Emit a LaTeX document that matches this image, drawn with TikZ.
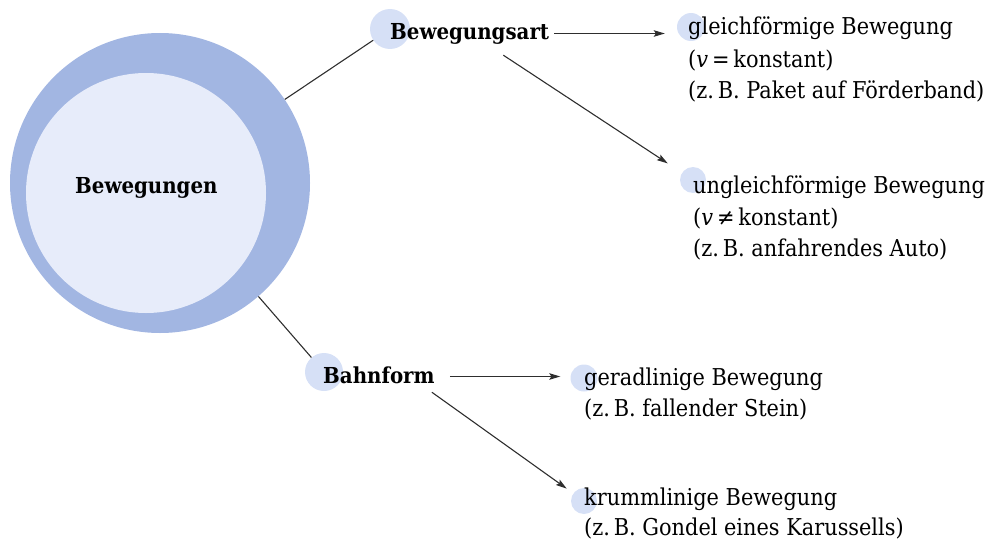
\documentclass[tikz,border=0pt]{standalone}
\usepackage{fontspec}
\setmainfont{DejaVu Serif Condensed}
\usetikzlibrary{arrows.meta}
\definecolor{ringblue}{RGB}{162,182,226}
\definecolor{innerblue}{RGB}{231,236,250}
\definecolor{dotblue}{RGB}{214,224,246}
\begin{document}
\begin{tikzpicture}[x=1pt,y=-1pt,
  dot/.style={circle, fill=dotblue, inner sep=0pt, minimum size=#1},
  lbl/.style={anchor=base west, inner sep=0pt, font=\fontsize{23.2}{26}\selectfont},
  head/.style={anchor=base west, inner sep=0pt, text height=17pt, text depth=4pt, font=\fontsize{22}{26}\selectfont\bfseries},
  conn/.style={draw=black!82, line width=1.1pt},
  arr/.style={conn, -{Stealth[length=11pt,width=6.5pt,inset=2pt]}}]
\useasboundingbox (0,0) rectangle (990,543);
% circles
\node[circle, fill=ringblue, inner sep=0pt, minimum size=300pt] (outer) at (160,183) {};
\node[circle, fill=innerblue, inner sep=0pt, minimum size=240pt] (inner) at (146,193) {};
\node[dot=40pt] (dbart) at (390,29) {};
\node[dot=38pt] (dbahn) at (324,372) {};
\node[dot=28pt] (dgleich) at (691,27) {};
\node[dot=26pt] (dung) at (693,180) {};
\node[dot=27pt] (dgerad) at (584,378) {};
\node[dot=26pt] (dkrumm) at (584,501) {};
% headings
\node[head] (bew) at (75,193) {Bewegungen};
\node[head] (bart) at (390,40) {Bewegungsart};
\node[head] (bahn) at (323,383) {Bahnform};
% labels
\node[lbl] (g1) at (688,35) {gleichförmige Bewegung};
\node[lbl] (g2) at (688,67) {(\textit{v}\,=\,konstant)};
\node[lbl] (g3) at (688,98) {(z.\,B. Paket auf Förderband)};
\node[lbl] (u1) at (693,193) {ungleichförmige Bewegung};
\node[lbl] (u2) at (693,225) {(\textit{v}\,≠\,konstant)};
\node[lbl] (u3) at (693,256) {(z.\,B. anfahrendes Auto)};
\node[lbl] (r1) at (584,385) {geradlinige Bewegung};
\node[lbl] (r2) at (584,416) {(z.\,B. fallender Stein)};
\node[lbl] (k1) at (584,505) {krummlinige Bewegung};
\node[lbl] (k2) at (584,535) {(z.\,B. Gondel eines Karussells)};
% connectors
\draw[conn] (outer) -- (dbart);
\draw[conn] (outer) -- (dbahn);
\draw[arr, shorten <=5pt, shorten >=12pt] (bart.east) -- (bart.east -| dgleich.west);
\draw[arr, shorten >=17pt] ([xshift=-46pt,yshift=-11pt]bart.south east) -- (dung);
\draw[arr, shorten <=15pt, shorten >=10pt] (bahn.east) -- (bahn.east -| dgerad.west);
\draw[arr, shorten >=8pt] ([xshift=-3pt,yshift=-5pt]bahn.south east) -- (dkrumm);
\end{tikzpicture}
\end{document}
